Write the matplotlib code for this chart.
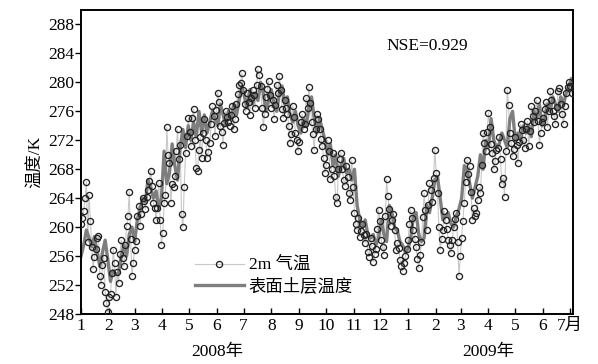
import numpy as np
import pandas as pd
import matplotlib
matplotlib.use("Agg")
import matplotlib.pyplot as plt
from matplotlib.lines import Line2D

plt.rcParams['font.family'] = ['Liberation Serif', 'Noto Sans CJK SC']

# 2m air temperature, read every 3 days from 2008-01-01 (days 0, 3, 6, ...)
step = 3
air_temp = [
    260.5, 262.2, 266.3, 264.5, 257.3, 255.9, 258.5, 253.2, 254.8, 251.1,
    248.3, 250.8, 256.9, 250.4, 252.3, 258.2, 254.6, 260.1, 264.9, 253.2,
    256.9, 261.5, 260.1, 264.0, 262.5, 265.2, 267.7, 263.3, 261.0, 266.1,
    257.6, 263.3, 273.8, 268.9, 266.0, 267.1, 273.5, 271.4, 260.0, 270.3,
    275.1, 271.2, 276.3, 268.2, 270.7, 269.6, 274.9, 269.6, 271.6, 276.7,
    272.6, 278.6, 274.0, 271.4, 276.0, 274.5, 275.5, 273.5, 277.0, 279.7,
    281.3, 277.0, 278.5, 275.5, 279.0, 276.5, 281.8, 279.5, 273.8, 278.0,
    280.2, 276.5, 275.0, 279.7, 280.9, 276.3, 277.6, 275.6, 271.6, 276.8,
    273.0, 270.5, 274.5, 273.5, 277.9, 279.3, 274.5, 270.7, 275.6, 273.5,
    271.2, 267.5, 272.0, 266.6, 270.3, 264.2, 268.0, 270.3, 266.5, 268.5,
    264.7, 269.3, 262.0, 259.6, 258.7, 260.5, 257.8, 256.6, 258.5, 255.2,
    257.0, 262.4, 258.2, 256.2, 266.6, 262.5, 261.0, 259.6, 257.8, 255.5,
    253.9, 256.0, 258.2, 262.4, 259.6, 257.3, 254.3, 258.0, 264.7, 259.6,
    266.1, 263.5, 270.7, 264.7, 256.9, 259.6, 261.0, 258.2, 256.4, 260.0,
    262.0, 253.2, 258.5, 263.3, 269.3, 268.4, 261.0, 261.5, 263.8, 264.7,
    273.0, 270.5, 275.8, 271.5, 268.0, 270.7, 272.5, 265.9, 264.2, 279.0,
    273.0, 269.8, 272.5, 268.9, 274.2, 272.0, 273.5, 271.2, 276.7, 274.5,
    277.5, 271.4, 274.5, 276.3, 273.8, 278.8, 276.0, 274.2, 278.8, 277.0,
    274.2, 278.5, 280.0, 278.6,
]
# the days in between (1.5, 4.5, 7.5, ...)
air_temp_mid = [
    261.3, 264.0, 258.0, 260.9, 254.2, 257.0, 258.8, 252.0, 255.8, 249.5,
    250.4, 253.6, 255.0, 253.8, 256.3, 255.8, 257.5, 261.5, 258.4, 255.0,
    258.1, 262.9, 261.8, 263.6, 264.2, 266.4, 265.7, 262.6, 262.7, 261.0,
    259.2, 264.5, 269.9, 263.4, 265.5, 270.5, 269.4, 261.8, 265.6, 272.6,
    273.2, 275.1, 272.0, 267.8, 272.4, 273.0, 272.0, 270.4, 274.2, 275.4,
    276.2, 277.3, 273.1, 274.4, 275.2, 274.0, 276.8, 275.0, 278.4, 279.9,
    279.0, 276.0, 277.3, 277.8, 278.2, 279.6, 281.0, 276.4, 275.7, 279.1,
    278.3, 277.5, 276.9, 278.5, 279.0, 275.1, 276.5, 274.0, 272.9, 275.2,
    272.0, 271.8, 275.6, 274.3, 276.4, 277.2, 272.8, 273.5, 274.9, 272.2,
    269.5, 268.6, 270.5, 268.1, 267.0, 263.3, 269.4, 268.0, 265.7, 266.9,
    263.8, 265.5, 260.5, 261.2, 259.4, 258.9, 259.0, 255.9, 257.4, 256.3,
    259.8, 260.9, 257.2, 261.5, 264.3, 260.2, 261.8, 256.9, 257.1, 254.6,
    255.0, 257.0, 260.5, 261.3, 258.4, 255.6, 256.2, 261.4, 262.3, 263.0,
    265.2, 266.8, 267.5, 260.0, 258.3, 262.2, 259.7, 257.5, 258.2, 261.1,
    258.0, 256.0, 260.8, 266.2, 267.4, 264.8, 262.6, 262.0, 265.5, 268.6,
    271.6, 273.2, 273.9, 270.2, 269.2, 271.0, 269.4, 266.8, 270.5, 276.9,
    271.6, 270.8, 271.3, 271.7, 273.4, 271.0, 274.6, 273.3, 275.4, 276.0,
    274.6, 273.0, 275.1, 277.3, 276.0, 277.6, 275.4, 276.6, 279.2, 275.7,
    276.8, 279.3, 279.5,
]
# surface soil layer temperature, same 3-day spacing
soil_temp = [
    256.0, 257.5, 259.6, 258.5, 257.3, 258.7, 256.5, 254.6, 256.5, 258.2,
    255.5, 252.5, 254.0, 253.5, 253.6, 256.0, 257.5, 256.0, 259.0, 260.0,
    258.0, 261.0, 262.5, 264.0, 263.5, 266.5, 265.5, 264.0, 265.0, 262.5,
    264.0, 270.5, 266.0, 267.5, 271.5, 268.5, 266.5, 271.0, 273.5, 271.0,
    274.0, 272.0, 274.5, 272.5, 276.0, 273.0, 275.5, 273.0, 274.5, 276.0,
    275.0, 274.0, 277.0, 275.5, 274.0, 276.0, 275.0, 277.0, 275.5, 277.5,
    279.5, 278.0, 276.5, 279.0, 277.0, 278.5, 277.5, 280.0, 278.5, 276.0,
    277.5, 279.0, 277.0, 276.0, 278.5, 279.5, 277.0, 278.0, 275.5, 274.5,
    276.0, 274.0, 273.0, 275.0, 274.0, 276.5, 278.0, 275.0, 273.0, 275.0,
    273.5, 272.0, 270.0, 271.5, 268.5, 270.0, 267.0, 268.5, 269.5, 267.5,
    268.0, 266.5, 268.0, 263.0, 261.0, 260.0, 261.0, 259.0, 258.5, 259.0,
    257.5, 258.5, 261.0, 259.0, 258.0, 263.0, 262.0, 260.0, 259.5, 258.0,
    257.5, 256.5, 257.0, 258.5, 261.5, 262.0, 259.0, 258.0, 258.5, 263.0,
    262.0, 264.0, 266.5, 267.0, 264.0, 261.0, 261.5, 262.0, 260.5, 260.0,
    261.5, 262.5, 264.0, 268.5, 268.0, 266.0, 264.0, 265.5, 267.0, 270.0,
    268.0, 272.0, 271.0, 275.0, 272.0, 271.0, 271.5, 273.0, 272.0, 271.0,
    275.0, 276.0, 272.0, 273.0, 272.0, 274.0, 273.0, 274.0, 272.5, 276.0,
    275.0, 277.0, 274.0, 275.0, 277.0, 276.0, 278.0, 277.0, 276.0, 278.0,
    277.0, 278.5, 279.5, 280.5,
]
month_labels = ['1', '2', '3', '4', '5', '6', '7', '8', '9', '10', '11', '12',
                '1', '2', '3', '4', '5', '6', '7月']
year_labels = ['2008年', '2009年']
nse_text = 'NSE=0.929'

start = pd.Timestamp('2008-01-01')
month_starts = pd.date_range('2008-01-01', '2009-07-01', freq='MS')
tick_days = (month_starts - start).days.values

air_days = np.concatenate([np.arange(len(air_temp)) * step,
                           np.arange(len(air_temp_mid)) * step + step / 2])
air_vals = np.concatenate([air_temp, air_temp_mid])
order = np.argsort(air_days)
air_days, air_vals = air_days[order], air_vals[order]
soil_days = np.arange(len(soil_temp)) * step

fig = plt.figure(figsize=(5.98, 3.64), dpi=100)
ax = fig.add_axes([0.1355, 0.1374, 0.8225, 0.8351])

ax.plot(air_days, air_vals, color='#c8c8c8', lw=0.8, zorder=1)
ax.plot(soil_days, soil_temp, color='#7e7e7e', lw=2.4, zorder=2)
ax.plot(air_days, air_vals, ls='none', marker='o', ms=4.4, mfc='none',
        mec='#222222', mew=0.95, zorder=3)

ax.set_xlim(0, 550.5)
ax.set_ylim(248, 290)
ax.set_yticks(np.arange(248, 289, 4))
ax.set_xticks(tick_days)
ax.set_xticklabels(month_labels)
ax.tick_params(axis='y', direction='out', length=4, width=1, labelsize=12.5, pad=1)
ax.tick_params(axis='x', direction='in', length=4, width=1, labelsize=12.5, pad=3)
for s in ax.spines.values():
    s.set_linewidth(1.4)

ax.set_ylabel('温度/K', fontsize=12.5, labelpad=3)

ax.text(0.62, 0.87, nse_text, transform=ax.transAxes, fontsize=12.5)

# year labels under the month ticks
ax.text(tick_days[5], -0.1, year_labels[0], transform=ax.get_xaxis_transform(),
        ha='center', va='top', fontsize=12.5)
ax.text(tick_days[15], -0.1, year_labels[1], transform=ax.get_xaxis_transform(),
        ha='center', va='top', fontsize=12.5)

handles = [
    Line2D([], [], color='#c8c8c8', lw=0.8, marker='o', ms=4.4, mfc='none',
           mec='#222222', mew=0.95),
    Line2D([], [], color='#7e7e7e', lw=2.4),
]
ax.legend(handles, ['2m 气温', '表面土层温度'], loc='lower left',
          bbox_to_anchor=(0.2, 0.01), frameon=False, fontsize=12.5,
          handlelength=2.8, handletextpad=0.3, labelspacing=0.25)

fig.savefig('out.png', dpi=100)
